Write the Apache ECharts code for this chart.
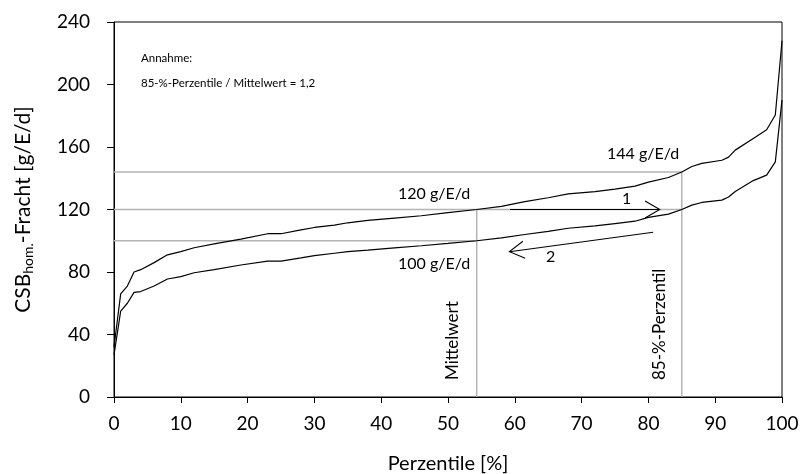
<!DOCTYPE html>
<html>
<head>
<meta charset="utf-8">
<script src="https://cdn.jsdelivr.net/npm/echarts@6/dist/echarts.min.js"></script>
<style>
  html, body { margin: 0; padding: 0; background: #fff; }
  #chart { width: 801px; height: 474px; }
</style>
</head>
<body>
<div id="chart"></div>
<script>
// Sorted daily COD loads per inhabitant, plotted against percentile
const FONT = 'Lato';

// upper curve: distribution with mean 120 g/E/d
const upperCurve = [
  [0, 32], [1, 66], [2, 71], [3, 80], [4, 81.5], [6, 86], [8, 91], [10, 93],
  [12, 95.5], [15, 98], [19, 101], [23, 104.5], [25, 104.5], [28, 107], [30, 108.5],
  [33, 110], [35, 111.5], [38, 113], [42, 114.5], [46, 116], [50, 118], [54.3, 120],
  [58, 122], [61.5, 125], [65, 127.5], [68, 130], [72, 131.5], [75, 133], [78, 135],
  [80, 137.5], [83, 140.5], [85, 144], [86.5, 147.5], [88, 149.5], [91, 151.5],
  [92, 153.5], [93, 158], [95.7, 165.5], [97.7, 171], [99, 180.5], [100, 228]
];

// lower curve: distribution with mean 100 g/E/d
const lowerCurve = [
  [0, 27], [1, 55], [2, 60], [3, 67], [4, 67.5], [6, 71], [8, 75.5], [10, 77],
  [12, 79.5], [15, 81.5], [19, 84.5], [23, 87], [25, 87], [28, 89], [30, 90.5],
  [33, 92], [35, 93], [38, 94], [42, 95.5], [46, 96.8], [50, 98.3], [54.3, 100],
  [58, 101.8], [61.5, 104], [65, 106], [68, 108], [72, 109.5], [75, 111], [78, 112.5],
  [80, 115], [83, 117], [85, 120], [86.5, 122.8], [88, 124.5], [91, 126],
  [92, 128], [93, 131.5], [95.7, 138.5], [97.7, 142], [99, 150.5], [100, 190]
];

// reference lines: percentile of mean and 85th percentile
const meanPct = 54.3;
const p85 = 85;
const guide144 = [[0, 144], [p85, 144], [p85, 0]];
const guide120 = [[0, 120], [p85, 120]];
const guideMean = [[meanPct, 0], [meanPct, 120]];
const guide100 = [[0, 100], [meanPct, 100]];

// arrows: [x0, y0, x1, y1] (head at x1/y1)
const arrows = [
  [59.3, 120, 81.7, 120],
  [80.7, 105.4, 59.2, 93]
];

const xTicks = { min: 0, max: 100, interval: 10 };
const yTicks = { min: 0, max: 240, interval: 40 };

const chart = echarts.init(document.getElementById('chart'), null, { renderer: 'canvas' });

function guide(data) {
  return {
    type: 'line', data: data, symbol: 'none', silent: true, z: 1,
    lineStyle: { color: '#b4b4b4', width: 1.5 }
  };
}

function curve(data) {
  return {
    type: 'line', data: data, symbol: 'none', silent: true, z: 3,
    lineStyle: { color: '#000', width: 1.2 }
  };
}

function renderArrow(params, api) {
  const p0 = api.coord([api.value(0), api.value(1)]);
  const p1 = api.coord([api.value(2), api.value(3)]);
  const ang = Math.atan2(p1[1] - p0[1], p1[0] - p0[0]);
  const len = 17, spread = Math.PI / 6;
  const a1 = [p1[0] - len * Math.cos(ang - spread), p1[1] - len * Math.sin(ang - spread)];
  const a2 = [p1[0] - len * Math.cos(ang + spread), p1[1] - len * Math.sin(ang + spread)];
  const style = { stroke: '#000', lineWidth: 1.1, fill: null };
  return {
    type: 'group',
    children: [
      { type: 'polyline', shape: { points: [p0, p1] }, style: style },
      { type: 'polyline', shape: { points: [a1, p1, a2] }, style: style }
    ]
  };
}

const txt = (x, y, text, extra) => ({
  type: 'text', x: x, y: y,
  style: Object.assign({ text: text, fontFamily: FONT, fontSize: 16, fill: '#000' }, extra || {})
});

chart.setOption({
  animation: false,
  backgroundColor: '#fff',
  grid: {
    left: 114, right: 19, top: 22, bottom: 77,
    containLabel: false, outerBoundsMode: 'none',
    show: true, borderColor: '#000', borderWidth: 1
  },
  xAxis: {
    type: 'value', min: xTicks.min, max: xTicks.max, interval: xTicks.interval,
    name: 'Perzentile [%]', nameLocation: 'middle', nameGap: 57,
    nameTextStyle: { fontFamily: FONT, fontSize: 20, color: '#000' },
    axisLine: { show: true, lineStyle: { color: '#000', width: 1 } },
    axisTick: { show: true, length: 6, lineStyle: { color: '#000' } },
    axisLabel: { fontFamily: FONT, fontSize: 19, color: '#000', margin: 17 },
    splitLine: { show: false }
  },
  yAxis: {
    type: 'value', min: yTicks.min, max: yTicks.max, interval: yTicks.interval,
    name: '{a|CSB}{s|hom.}{a|-Fracht [g/E/d]}',
    nameLocation: 'middle', nameGap: 78, nameRotate: 90,
    nameTextStyle: {
      rich: {
        a: { fontFamily: FONT, fontSize: 21, color: '#000', lineHeight: 26 },
        s: { fontFamily: FONT, fontSize: 14, color: '#000', padding: [11, 0, 0, 0] }
      }
    },
    axisLine: { show: true, lineStyle: { color: '#000', width: 1 } },
    axisTick: { show: true, length: 7, lineStyle: { color: '#000' } },
    axisLabel: { fontFamily: FONT, fontSize: 19, color: '#000', margin: 24 },
    splitLine: { show: false }
  },
  series: [
    guide(guide144), guide(guide120), guide(guideMean), guide(guide100),
    curve(upperCurve), curve(lowerCurve),
    {
      type: 'custom', data: arrows, renderItem: renderArrow, silent: true, z: 4,
      encode: { x: [0, 2], y: [1, 3] }
    }
  ],
  graphic: [
    txt(141, 52, 'Annahme:', { fontSize: 11.5 }),
    txt(141, 77, '85-%-Perzentile / Mittelwert = 1,2', { fontSize: 11.5 }),
    txt(607, 146, '144 g/E/d'),
    txt(398, 186, '120 g/E/d'),
    txt(398, 256, '100 g/E/d'),
    txt(622, 191, '1'),
    txt(546, 249, '2'),
    { type: 'text', x: 444, y: 380, rotation: Math.PI / 2,
      style: { text: 'Mittelwert', fontFamily: FONT, fontSize: 17, fill: '#000', align: 'left', verticalAlign: 'top' } },
    { type: 'text', x: 651, y: 380, rotation: Math.PI / 2,
      style: { text: '85-%-Perzentil', fontFamily: FONT, fontSize: 17, fill: '#000', align: 'left', verticalAlign: 'top' } }
  ]
});
</script>
</body>
</html>
